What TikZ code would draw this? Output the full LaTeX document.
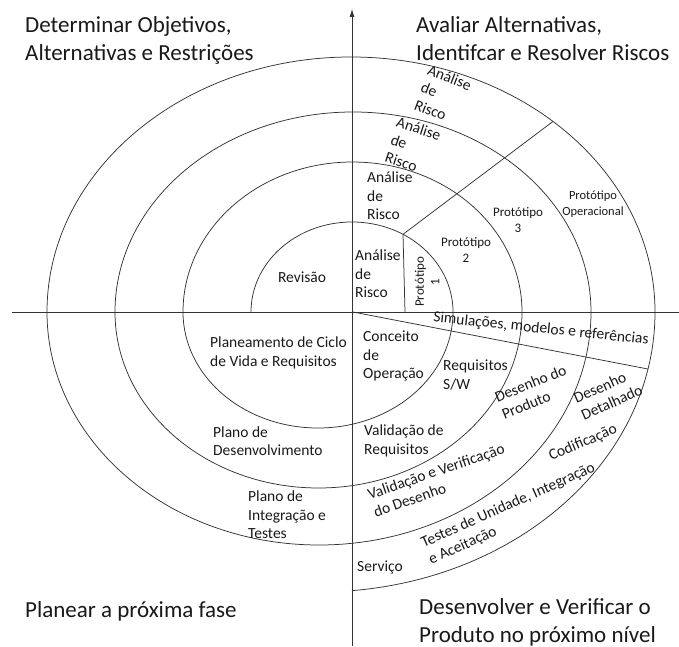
\documentclass[tikz,border=0pt]{standalone}
\usepackage{fontspec}
\setmainfont{Carlito}
\usetikzlibrary{arrows.meta,calc}
\begin{document}
\begin{tikzpicture}[x=1pt,y=1pt,
  ln/.style={line width=0.75pt, draw=black!80},
  big/.style={inner sep=0pt, align=left, text=black!90, font=\fontsize{23}{28}\selectfont},
  lab/.style={inner sep=0pt, align=left, text=black!90, font=\fontsize{15.5}{18.5}\selectfont},
  proto/.style={inner sep=0pt, align=center, text=black!90, font=\fontsize{13}{15.5}\selectfont},
]
\useasboundingbox (0,0) rectangle (679,646);

% axes
\coordinate (hL) at (12,334);
\coordinate (hR) at (679,334);
\coordinate (vB) at (352,0);
\coordinate (vT) at (352,637);
\draw[ln] (hL) -- (hR);
\draw[ln, -{Latex[length=8pt,width=5pt]}] (vB) -- (vT);

% spiral: upper half-arcs around x=352, lower half-arcs around x=319
\draw[ln] (251,334)
  arc[start angle=180, end angle=0, x radius=101, y radius=90]
  arc[start angle=0, end angle=-180, x radius=135, y radius=116]
  arc[start angle=180, end angle=0, x radius=169.5, y radius=150]
  arc[start angle=0, end angle=-180, x radius=203.5, y radius=176]
  arc[start angle=180, end angle=0, x radius=238, y radius=200]
  arc[start angle=0, end angle=-180, x radius=272, y radius=233]
  arc[start angle=180, end angle=0, x radius=304, y radius=255]
  arc[start angle=0, end angle=-84.4, x radius=336, y radius=280];

% prototype dividers
\coordinate (pA) at ($(352,334)+(59.67:101 and 90)$);
\coordinate (pB) at ($(351,334)+(48.36:304 and 255)$);
\coordinate (pC) at (405,334);
\draw[ln] (pC) -- (pA) -- (pB);

% simulation line
\coordinate (sA) at (353,334);
\coordinate (sB) at ($(319,334)+(-11.75:336 and 280)$);
\draw[ln] (sA) -- (sB);

% quadrant titles
\node[big, anchor=west] (qTL) at (25,606) {Determinar Objetivos,\\Alternativas e Restrições};
\node[big, anchor=west] (qTR) at (416,607) {Avaliar Alternativas,\\Identifcar e Resolver Riscos};
\node[big, anchor=base west] (qBL) at (25,29) {Planear a próxima fase};
\node[big, anchor=west] (qBR) at (419,24) {Desenvolver e Verificar o\\Produto no próximo nível};

% upper left
\node[lab] (rev) at (302,369) {Revisão};

% upper right
\node[lab, anchor=west] (ar1) at (355,372) {Análise\\de\\Risco};
\node[lab, anchor=west] (ar2) at (367,450) {Análise\\de\\Risco};
\node[lab, rotate=-18] (ar3) at (413,500) {Análise\\de\\Risco};
\node[lab, rotate=-21] (ar4) at (443,551) {Análise\\de\\Risco};
\node[proto, rotate=90] (pr1) at (427,364) {Protótipo\\1};
\node[proto] (pr2) at (466,396) {Protótipo\\2};
\node[proto] (pr3) at (518,426) {Protótipo\\3};
\node[proto, font=\fontsize{12.5}{16}\selectfont] (pr4) at (593,442) {Protótipo\\Operacional};

% lower right
\node[lab, rotate=-6] (sim) at (541,317) {Simulações, modelos e referências};
\node[lab, anchor=west] (cop) at (363,290) {Conceito\\de\\Operação};
\node[lab, anchor=west] (rsw) at (443,271) {Requisitos\\S/W};
\node[lab, rotate=22] (dpr) at (534,254) {Desenho do\\Produto};
\node[lab, rotate=24] (ddt) at (608,252) {Desenho\\Detalhado};
\node[lab, anchor=west] (vrq) at (364,205) {Validação de\\Requisitos};
\node[lab, rotate=19] (vvd) at (439,166) {Validação e Verificação\\do Desenho};
\node[lab, rotate=23] (cod) at (583,203) {Codificação};
\node[lab, rotate=24] (tst) at (512,132) {Testes de Unidade, Integração\\e Aceitação};
\node[lab] (srv) at (380,79) {Serviço};

% lower left
\node[lab, anchor=west] (pcv) at (210,293) {Planeamento de Ciclo\\de Vida e Requisitos};
\node[lab, anchor=west] (pde) at (213,205) {Plano de\\Desenvolvimento};
\node[lab, anchor=west] (pit) at (248,131) {Plano de\\Integração e\\Testes};
\end{tikzpicture}
\end{document}
